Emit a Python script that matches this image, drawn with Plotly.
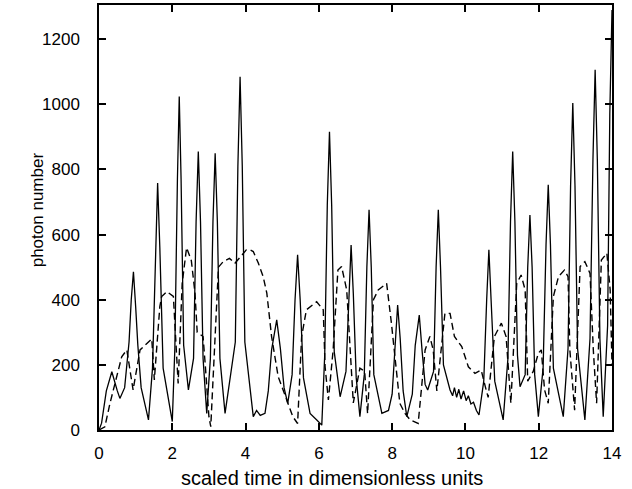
import plotly.graph_objects as go

# =====================================
# DATA
# =====================================
# solid curve: photon number
solid_t = [0, 0.07, 0.2, 0.35, 0.5, 0.57, 0.7, 0.82, 0.88, 0.94, 1.0, 1.06, 1.15,
           1.35, 1.46, 1.54, 1.60, 1.66, 1.75, 2.00, 2.07, 2.14, 2.19, 2.24, 2.31,
           2.44, 2.58, 2.65, 2.71, 2.77, 2.84, 2.94, 3.04, 3.11, 3.17, 3.23, 3.30,
           3.44, 3.72, 3.79, 3.85, 3.91, 3.98, 4.21, 4.30, 4.40, 4.53, 4.62, 4.71,
           4.85, 4.95, 5.05, 5.15, 5.27, 5.35, 5.42, 5.49, 5.58, 5.76, 5.95, 6.08,
           6.16, 6.23, 6.29, 6.35, 6.42, 6.58, 6.74, 6.82, 6.88, 6.94, 7.02, 7.12,
           7.24, 7.31, 7.37, 7.43, 7.50, 7.72, 7.90, 8.0, 8.08, 8.15, 8.22, 8.30,
           8.40, 8.55, 8.63, 8.74, 8.82, 8.90, 8.97, 9.13, 9.20, 9.26, 9.32, 9.40,
           9.58, 9.65, 9.70, 9.76, 9.82, 9.88, 9.95, 10.02, 10.08, 10.15, 10.22,
           10.30, 10.37, 10.50, 10.58, 10.64, 10.70, 10.80, 11.03, 11.16, 11.23,
           11.29, 11.35, 11.42, 11.49, 11.63, 11.70, 11.76, 11.82, 11.89, 11.99,
           12.12, 12.20, 12.26, 12.32, 12.40, 12.67, 12.80, 12.87, 12.93, 12.99,
           13.06, 13.26, 13.40, 13.48, 13.54, 13.60, 13.67, 13.76, 13.88, 13.94,
           14.0]
solid_n = [0, 21, 120, 179, 120, 97, 130, 270, 400, 486, 380, 260, 130,
           31, 190, 560, 758, 560, 190, 26, 250, 770, 1024, 770, 260,
           123, 220, 640, 855, 640, 220, 51, 220, 640, 850, 640, 220,
           51, 270, 810, 1085, 810, 270, 41, 60, 45, 51, 120, 246,
           338, 250, 130, 82, 170, 400, 538, 400, 160, 51, 30, 15,
           230, 690, 916, 690, 240, 102, 180, 420, 568, 420, 160, 41,
           170, 500, 676, 500, 170, 51, 60, 110, 270, 384, 280, 120,
           41, 110, 260, 353, 240, 140, 123, 180, 500, 676, 500, 200,
           123, 105, 130, 100, 125, 95, 120, 90, 105, 80, 85,
           60, 46, 150, 400, 553, 400, 150, 31, 220, 640,
           855, 640, 230, 133, 170, 500, 660, 500, 170, 41,
           190, 570, 753, 570, 190, 41, 250, 750, 1004, 750,
           250, 31, 280, 830, 1106, 830, 280, 41, 320, 970,
           1290]

# dashed curve
dash_t = [0, 0.16, 0.30, 0.44, 0.62, 0.76, 0.93, 1.12, 1.35, 1.44, 1.51, 1.66,
          1.71, 1.85, 2.03, 2.16, 2.27, 2.39, 2.52, 2.62, 2.68, 2.84, 2.90, 3.0,
          3.05, 3.15, 3.26, 3.39, 3.56, 3.71, 3.85, 4.02, 4.12, 4.21, 4.35, 4.48,
          4.58, 4.71, 4.89, 5.12, 5.29, 5.42, 5.53, 5.66, 5.94, 6.12, 6.17, 6.26,
          6.39, 6.52, 6.62, 6.76, 6.85, 6.94, 7.12, 7.25, 7.33, 7.49, 7.62, 7.85,
          7.98, 8.08, 8.21, 8.35, 8.49, 8.71, 8.90, 9.03, 9.12, 9.22, 9.30, 9.44,
          9.58, 9.70, 9.90, 10.08, 10.26, 10.43, 10.52, 10.62, 10.79, 10.98, 11.11,
          11.24, 11.40, 11.52, 11.63, 11.70, 11.85, 11.99, 12.07, 12.16, 12.26,
          12.40, 12.54, 12.70, 12.80, 12.85, 12.98, 13.13, 13.26, 13.40, 13.49,
          13.58, 13.71, 13.86, 13.95, 14.0]
dash_n = [0, 10, 82, 143, 225, 246, 123, 246, 271, 280, 154, 379,
          410, 425, 410, 143, 450, 560, 520, 420, 300, 287, 200, 40,
          10, 250, 500, 517, 527, 512, 530, 553, 553, 548, 512, 471,
          420, 287, 164, 92, 41, 20, 287, 369, 394, 369, 194, 92,
          246, 491, 502, 430, 246, 83, 190, 180, 50, 400, 430, 450,
          328, 225, 82, 51, 31, 20, 246, 287, 246, 120, 200, 358,
          358, 287, 256, 194, 174, 184, 143, 100, 287, 328, 287,
          82, 450, 476, 430, 150, 180, 236, 246, 123, 82,
          410, 471, 491, 471, 246, 61, 502, 517, 481, 246,
          82, 522, 543, 430, 200]

X_TICKS = [0, 2, 4, 6, 8, 10, 12, 14]
Y_TICKS = [0, 200, 400, 600, 800, 1000, 1200]

FONT = "Liberation Sans, Arial, Helvetica, sans-serif"

# =====================================
# FIGURE
# =====================================
fig = go.Figure()
fig.add_trace(go.Scatter(x=solid_t, y=solid_n, mode="lines",
                         line=dict(color="black", width=1.3)))
fig.add_trace(go.Scatter(x=dash_t, y=dash_n, mode="lines",
                         line=dict(color="black", width=1.4, dash="7px,4px")))

axis_style = dict(showline=True, linecolor="black", linewidth=1.5, mirror="ticks",
                  ticks="inside", ticklen=7, tickwidth=1.5, tickcolor="black",
                  showgrid=False, zeroline=False, automargin=False,
                  tickfont=dict(family=FONT, size=17, color="black"))

fig.update_xaxes(range=[0, 14], tickvals=X_TICKS, ticklabelstandoff=7, **axis_style)
fig.update_yaxes(range=[0, 1305], tickvals=Y_TICKS, ticklabelstandoff=14, **axis_style)

fig.update_layout(
    width=632, height=489,
    margin=dict(l=99, r=20, t=5, b=59),
    paper_bgcolor="white", plot_bgcolor="white",
    showlegend=False,
    annotations=[
        dict(text="scaled time in dimensionless units", xref="paper", yref="paper",
             x=0.454, y=-0.113, xanchor="center", yanchor="middle", showarrow=False,
             font=dict(family=FONT, size=20, color="black")),
        dict(text="photon number", xref="paper", yref="paper", textangle=-90,
             x=-0.12, y=0.518, xanchor="center", yanchor="middle", showarrow=False,
             font=dict(family=FONT, size=17, color="black")),
    ],
)

# the page body has a default 8px margin; drop it so the figure sits at 0,0
fig.write_html("out.html", config={"displayModeBar": False},
               post_script="document.body.style.margin='0';")
